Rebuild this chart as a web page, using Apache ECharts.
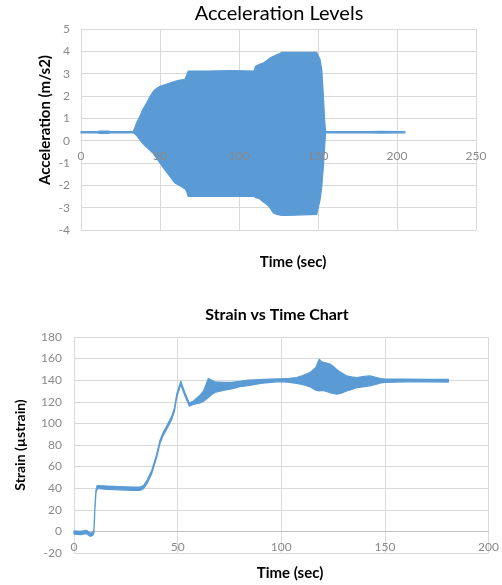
<!DOCTYPE html>
<html><head><meta charset="utf-8">
<script src="https://cdn.jsdelivr.net/npm/echarts@6/dist/echarts.min.js"></script>
<style>html,body{margin:0;padding:0;background:#fff}#c{width:502px;height:585px}</style>
</head><body><div id="c"></div>
<script>
// ---- Chart 1: Acceleration envelope (dense oscillation drawn as band) ----
var accTime  = [0, 10, 12, 17, 19, 33, 34.2, 35.5, 37.3, 39, 41.6, 43.5, 45.8, 48, 50, 53, 56.3, 59.5, 62, 65.8, 67, 67.9, 80, 95, 109.5, 110.5, 113, 115.4, 117.5, 119.6, 121.7, 123.9, 127, 130, 140, 149.2, 151.3, 152.4, 153.4, 154.2, 154.8, 180, 190, 205];
var accUpper = [0.41, 0.41, 0.43, 0.43, 0.41, 0.41, 0.6, 0.85, 1.09, 1.38, 1.69, 1.95, 2.21, 2.35, 2.43, 2.5, 2.58, 2.66, 2.7, 2.75, 2.95, 3.12, 3.12, 3.14, 3.12, 3.33, 3.42, 3.48, 3.58, 3.7, 3.78, 3.85, 3.95, 3.95, 3.96, 3.95, 3.63, 3.17, 1.98, 0.94, 0.41, 0.41, 0.42, 0.41];
var accLower = [0.35, 0.35, 0.33, 0.33, 0.35, 0.35, 0.3, 0.2, 0.03, -0.12, -0.3, -0.42, -0.58, -0.8, -1.0, -1.3, -1.6, -1.9, -2.0, -2.15, -2.3, -2.5, -2.5, -2.5, -2.5, -2.55, -2.6, -2.75, -2.85, -3.0, -3.24, -3.3, -3.35, -3.35, -3.32, -3.3, -2.65, -2.05, -1.15, -0.26, 0.35, 0.35, 0.34, 0.35];

// ---- Chart 2: Strain vs time (band between lower and upper trace) ----
var strainTime  = [0, 3, 6, 7.7, 9, 9.6, 10.1, 10.6, 11.2, 12, 16, 22, 28, 31.8, 33.5, 35, 37.5, 39.9, 41.5, 43, 44.7, 47.1, 48.5, 49.5, 51.5, 53.5, 55.6, 57.5, 60.8, 62.5, 64.8, 66, 67.9, 72, 76, 80, 84, 90, 95, 99.4, 104, 107.4, 110, 113.8, 116.7, 118.3, 119.5, 121, 123.5, 125, 126.7, 129, 131.5, 134, 136.4, 140, 142.8, 146, 148, 150, 160, 170, 180.6];
var strainLower = [-2.5, -3, -2, -4.5, -4, -1.5, 20.5, 35.5, 39.5, 39.5, 39, 38.5, 38, 38, 39.5, 43.5, 53.5, 68.5, 81.5, 88.5, 94.5, 103.5, 111.5, 123.5, 136, 125.5, 116, 117.5, 119, 120.5, 124, 126, 128.6, 130.5, 132, 134, 135, 137, 138, 138.7, 138, 137, 136, 134, 130.8, 130, 130.5, 130, 128.5, 127.7, 127, 128, 130, 131.5, 133, 134, 134.8, 136.4, 137.5, 138, 138.5, 138.5, 138.3];
var strainUpper = [0.5, 0, 1, -1.5, -1, 1.5, 23.5, 38.5, 42.5, 42.5, 42, 41.5, 41, 41, 42.5, 46.5, 56.5, 71.5, 84.5, 91.5, 97.5, 106.5, 114.5, 126.5, 139, 128.5, 119, 120.5, 126, 130, 141.6, 140.5, 138.5, 138, 138, 139, 140, 140.5, 141, 141.3, 141.8, 142.5, 144, 147, 151.7, 159.4, 157, 156.3, 155, 153, 150, 147, 144, 143, 142.5, 143.5, 144, 142.5, 141.5, 141, 141, 140.8, 140.7];

var accXTicks = {min: 0, max: 250, interval: 50};
var accYTicks = {min: -4, max: 5, interval: 1};
var strainXTicks = {min: 0, max: 200, interval: 50};
var strainYTicks = {min: -20, max: 180, interval: 20};

var BLUE = '#5b9bd5';
var GRID = '#d9d9d9';
var LABEL = '#898989';
var FONT = 'Lato, "Open Sans", sans-serif';

var G1 = {left: 81, top: 29, width: 395, height: 201};
var G2 = {left: 74, top: 337, width: 415, height: 216};

function bandSeries(idx, time, lower, upper, lw) {
  return {
    type: 'custom', xAxisIndex: idx, yAxisIndex: idx,
    data: time.map(function (t, i) { return [t, lower[i], upper[i]]; }),
    encode: {x: 0, y: [1, 2]},
    silent: true, animation: false, clip: false,
    renderItem: function (params, api) {
      if (params.dataIndex !== 0) return null;
      var pts = [], i;
      for (i = 0; i < time.length; i++) pts.push(api.coord([time[i], upper[i]]));
      for (i = time.length - 1; i >= 0; i--) pts.push(api.coord([time[i], lower[i]]));
      return {type: 'polygon', shape: {points: pts},
        style: {fill: BLUE, stroke: BLUE, lineWidth: lw, lineJoin: 'round'}};
    }
  };
}

// x axis sits on the y=0 line (Excel style): shift it up from the grid bottom.
// 'grid' layer: axis line + split lines behind the data; 'labels' layer: tick labels above the data.
function xAx(idx, ticks, yTicks, grid, lineColor, margin, layer) {
  var off = -grid.height * (0 - yTicks.min) / (yTicks.max - yTicks.min);
  var isLabels = layer === 'labels';
  return {type: 'value', gridIndex: idx, position: 'bottom', min: ticks.min, max: ticks.max, interval: ticks.interval,
    offset: off, z: isLabels ? 10 : 0,
    axisLine: {show: !isLabels, onZero: false, lineStyle: {color: lineColor, width: 1}},
    axisTick: {show: false},
    axisLabel: {show: isLabels, color: LABEL, fontSize: 12, fontFamily: FONT, margin: margin},
    splitLine: {show: !isLabels, lineStyle: {color: GRID, width: 1}}};
}
function yAx(idx, ticks, margin) {
  return {type: 'value', gridIndex: idx, position: 'left', min: ticks.min, max: ticks.max, interval: ticks.interval,
    axisLine: {show: false}, axisTick: {show: false},
    axisLabel: {color: LABEL, fontSize: 12, fontFamily: FONT, margin: margin},
    splitLine: {show: true, lineStyle: {color: GRID, width: 1}}};
}
function txt(x, y, text, font, rot) {
  return {type: 'text', x: x, y: y, rotation: rot || 0, silent: true,
    style: {text: text, font: font, fill: '#000', align: 'center', verticalAlign: 'middle',
      textAlign: 'center', textVerticalAlign: 'middle'}};
}

var chart = echarts.init(document.getElementById('c'), null, {renderer: 'canvas'});
chart.setOption({
  animation: false,
  backgroundColor: '#fff',
  grid: [
    {left: G1.left, top: G1.top, width: G1.width, height: G1.height, containLabel: false},
    {left: G2.left, top: G2.top, width: G2.width, height: G2.height, containLabel: false}
  ],
  xAxis: [
    xAx(0, accXTicks, accYTicks, G1, GRID, 9, 'grid'),
    xAx(1, strainXTicks, strainYTicks, G2, '#bfbfbf', 10, 'grid'),
    xAx(0, accXTicks, accYTicks, G1, GRID, 9, 'labels'),
    xAx(1, strainXTicks, strainYTicks, G2, '#bfbfbf', 10, 'labels')
  ],
  yAxis: [yAx(0, accYTicks, 11), yAx(1, strainYTicks, 12)],
  series: [
    bandSeries(0, accTime, accLower, accUpper, 1.2),
    bandSeries(1, strainTime, strainLower, strainUpper, 1.2)
  ],
  graphic: [
    txt(279, 14, 'Acceleration Levels', '20px ' + FONT),
    txt(45, 120, 'Acceleration (m/s2)', 'bold 15px ' + FONT, Math.PI / 2),
    txt(293, 262, 'Time (sec)', 'bold 15px ' + FONT),
    txt(277, 315, 'Strain vs Time Chart', 'bold 16px ' + FONT),
    txt(20, 445, 'Strain (µstrain)', 'bold 14px ' + FONT, Math.PI / 2),
    txt(290, 573, 'Time (sec)', 'bold 15px ' + FONT)
  ]
});
</script>
</body></html>
